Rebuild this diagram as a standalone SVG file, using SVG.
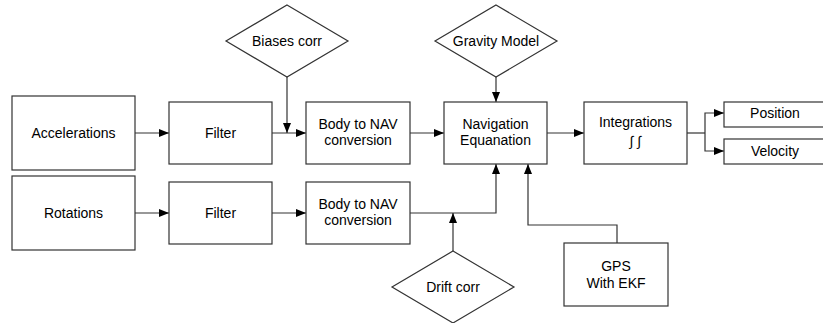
<svg xmlns="http://www.w3.org/2000/svg" width="823" height="323" viewBox="0 0 823 323">
<style>
.box{fill:#fff;stroke:#333;stroke-width:1.2}
.ln{fill:none;stroke:#333;stroke-width:1.2}
text{font-family:"Liberation Sans",Arial,sans-serif;font-size:14px;fill:#000;text-anchor:middle}
</style>
<defs>
<marker id="ah" markerUnits="userSpaceOnUse" markerWidth="10" markerHeight="8" refX="10" refY="4" orient="auto">
<path d="M0,0 L10,4 L0,8 Z" fill="#000"/>
</marker>
</defs>
<rect width="823" height="323" fill="#fff"/>
<g id="connectors">
<path class="ln" d="M135,133 H169" marker-end="url(#ah)"/>
<path class="ln" d="M272,133 H306" marker-end="url(#ah)"/>
<path class="ln" d="M287,77 V133" marker-end="url(#ah)"/>
<path class="ln" d="M410,133 H444" marker-end="url(#ah)"/>
<path class="ln" d="M496,77 V102" marker-end="url(#ah)"/>
<path class="ln" d="M547,133 H584" marker-end="url(#ah)"/>
<path class="ln" d="M687,133 H705"/>
<path class="ln" d="M705,133 V113 H724" marker-end="url(#ah)"/>
<path class="ln" d="M705,133 V151 H724" marker-end="url(#ah)"/>
<path class="ln" d="M135,213 H169" marker-end="url(#ah)"/>
<path class="ln" d="M272,213 H306" marker-end="url(#ah)"/>
<path class="ln" d="M410,213 H496 V164" marker-end="url(#ah)"/>
<path class="ln" d="M453,251 V213" marker-end="url(#ah)"/>
<path class="ln" d="M617,243 V225 H528 V164" marker-end="url(#ah)"/>
</g>
<g id="biases">
<polygon class="box" points="287,5 348,41 287,77 226,41"/>
<text x="287" y="46">Biases corr</text>
</g>
<g id="gravity">
<polygon class="box" points="496,5 557,41 496,77 435,41"/>
<text x="496" y="46">Gravity Model</text>
</g>
<g id="accelerations">
<rect class="box" x="12" y="96" width="123" height="74"/>
<text x="73.5" y="138">Accelerations</text>
</g>
<g id="filter1">
<rect class="box" x="169" y="102" width="103" height="62"/>
<text x="220.5" y="138">Filter</text>
</g>
<g id="body1">
<rect class="box" x="306" y="102" width="104" height="62"/>
<text x="358" y="129">Body to NAV</text>
<text x="358" y="145">conversion</text>
</g>
<g id="nav">
<rect class="box" x="444" y="102" width="103" height="62"/>
<text x="495.5" y="129">Navigation</text>
<text x="495.5" y="145">Equanation</text>
</g>
<g id="integrations">
<rect class="box" x="584" y="102" width="103" height="62"/>
<text x="635.5" y="127">Integrations</text>
<text x="635.5" y="146" font-size="11" fill="#666">∫ ∫</text>
</g>
<g id="position">
<rect class="box" x="724" y="102" width="100" height="25"/>
<text x="775" y="118">Position</text>
</g>
<g id="velocity">
<rect class="box" x="724" y="139" width="100" height="25"/>
<text x="775" y="156">Velocity</text>
</g>
<g id="rotations">
<rect class="box" x="12" y="176" width="123" height="74"/>
<text x="73.5" y="218">Rotations</text>
</g>
<g id="filter2">
<rect class="box" x="169" y="182" width="103" height="62"/>
<text x="220.5" y="218">Filter</text>
</g>
<g id="body2">
<rect class="box" x="306" y="182" width="104" height="62"/>
<text x="358" y="209">Body to NAV</text>
<text x="358" y="225">conversion</text>
</g>
<g id="drift">
<polygon class="box" points="453,251 514,287 453,323 392,287"/>
<text x="453" y="292">Drift corr</text>
</g>
<g id="gps">
<rect class="box" x="564" y="243" width="104" height="63"/>
<text x="616" y="271">GPS</text>
<text x="616" y="288">With EKF</text>
</g>
</svg>
